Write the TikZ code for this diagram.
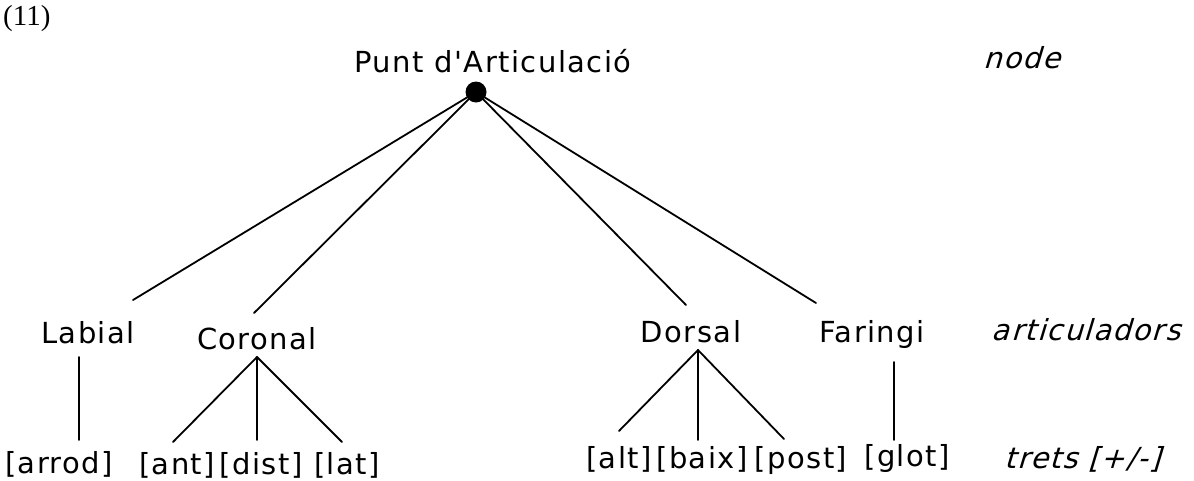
\documentclass[tikz,border=0pt]{standalone}
\usepackage{fontspec}
\setmainfont{Liberation Serif}
\newfontfamily\pixfont[LetterSpace=5]{DejaVu Sans}
\newfontfamily\pixslant[LetterSpace=5,FakeSlant=0.3]{DejaVu Sans}
\begin{document}
\begin{tikzpicture}[x=1pt,y=-1pt,
  lbl/.style={inner sep=0pt,anchor=base,font=\pixfont\fontsize{29}{30}\selectfont},
  tier/.style={inner sep=0pt,anchor=base,font=\pixslant\fontsize{29}{30}\selectfont},
  branch/.style={line width=1.8pt},
  every path/.style={line cap=round}]
\useasboundingbox (0,0) rectangle (1194,480);

% example number
\node[inner sep=0pt,anchor=base west,font=\fontsize{29}{30}\selectfont] (num) at (3,25) {(11)};

% root node and its dot
\node[lbl] (root) at (493,72) {Punt d'Articulació};
\node[circle,fill=black,inner sep=0pt,minimum size=21pt] (dot) at (476,92) {};

% tier labels on the right
\node[tier] (tnode) at (1022,68) {node};
\node[tier] (tart) at (1086,340) {articuladors};
\node[tier] (ttrets) at (1083,468) {trets [+/-]};

% articulators
\node[lbl] (lab) at (88,343) {Labial};
\node[lbl] (cor) at (257,349) {Coronal};
\node[lbl] (dor) at (691,342) {Dorsal};
\node[lbl] (far) at (872,342) {Faringi};

% features
\node[lbl] (arrod) at (59,473) {[arrod]};
\node[lbl] (ant) at (177,474) {[ant]};
\node[lbl] (dist) at (261,474) {[dist]};
\node[lbl] (lat) at (347,474) {[lat]};
\node[lbl] (alt) at (619,468) {[alt]};
\node[lbl] (baix) at (702,468) {[baix]};
\node[lbl] (post) at (801,468) {[post]};
\node[lbl] (glot) at (907,466) {[glot]};

% attachment points of the branches
\coordinate (labUp) at (133,300);
\coordinate (corUp) at (254,313);
\coordinate (dorUp) at (686,305);
\coordinate (farUp) at (816,303);
\coordinate (labDn) at (79,357);
\coordinate (corDn) at (257,357);
\coordinate (dorDn) at (698,350);
\coordinate (farDn) at (894,362);
\coordinate (arrodUp) at (79,440);
\coordinate (antUp) at (173,442);
\coordinate (distUp) at (257,440);
\coordinate (latUp) at (342,442);
\coordinate (altUp) at (619,431);
\coordinate (baixUp) at (698,440);
\coordinate (postUp) at (784,439);
\coordinate (glotUp) at (894,440);

% root to articulators
\draw[branch] (dot.center) -- (labUp);
\draw[branch] (dot.center) -- (corUp);
\draw[branch] (dot.center) -- (dorUp);
\draw[branch] (dot.center) -- (farUp);

% articulators to features
\draw[branch] (labDn) -- (arrodUp);
\draw[branch] (corDn) -- (antUp);
\draw[branch] (corDn) -- (distUp);
\draw[branch] (corDn) -- (latUp);
\draw[branch] (dorDn) -- (altUp);
\draw[branch] (dorDn) -- (baixUp);
\draw[branch] (dorDn) -- (postUp);
\draw[branch] (farDn) -- (glotUp);
\end{tikzpicture}
\end{document}
